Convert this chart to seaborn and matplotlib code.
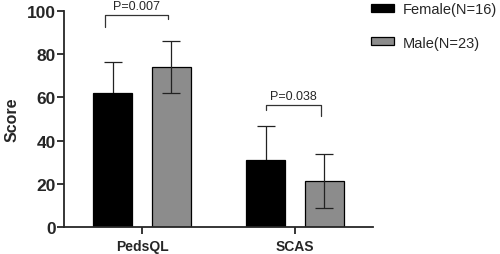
import pandas as pd
import matplotlib.pyplot as plt
import seaborn as sns
from matplotlib.patches import Patch

# -----------------------------------
# Data
# -----------------------------------
measures = ["PedsQL", "SCAS"]
groups = ["Female(N=16)", "Male(N=23)"]
female_mean = [62, 31.2]
female_sd = [14.5, 15.6]
male_mean = [74, 21.4]
male_sd = [12, 12.4]
p_labels = ["P=0.007", "P=0.038"]
bracket_y = [98, 56.5]
bracket_left = [92.5, 54]
bracket_right = [96.5, 51.5]

colors = {"Female(N=16)": "black", "Male(N=23)": "#8c8c8c"}

df = pd.DataFrame({
    "Measure": measures * 2,
    "Group": [groups[0]] * 2 + [groups[1]] * 2,
    "Score": female_mean + male_mean,
    "SD": female_sd + male_sd,
})

sns.set_style("ticks")
plt.rcParams["font.family"] = ["Liberation Sans", "DejaVu Sans"]

fig = plt.figure(figsize=(5, 2.55), dpi=100)
ax = fig.add_axes([0.128, 0.106, 0.618, 0.847])

sns.barplot(
    data=df, x="Measure", y="Score", hue="Group",
    order=measures, hue_order=groups, palette=colors,
    width=0.76, gap=0.33, errorbar=None,
    edgecolor="black", linewidth=0.9, legend=False, ax=ax,
)
for p in ax.patches:
    p.set_zorder(2)

# error bars: female behind (black bar hides the lower half), male on top
for patch_group, g, z in zip([ax.patches[:2], ax.patches[2:4]], groups, [1, 3]):
    sub = df[df["Group"] == g]
    xs = [p.get_x() + p.get_width() / 2 for p in patch_group]
    ax.errorbar(xs, sub["Score"], yerr=sub["SD"], fmt="none",
                ecolor="#222222", elinewidth=0.9, capsize=6.5, capthick=0.9, zorder=z)

# significance brackets
for i in range(2):
    f = ax.patches[i]
    m = ax.patches[2 + i]
    x1 = f.get_x() + f.get_width() / 2 - 0.05 if i == 0 else f.get_x() + f.get_width() / 2
    x2 = m.get_x() + m.get_width() / 2 - 0.02
    ax.plot([x1, x1, x2, x2],
            [bracket_left[i], bracket_y[i], bracket_y[i], bracket_right[i]],
            color="#333333", lw=0.9, clip_on=False)
    ax.text((x1 + x2) / 2, bracket_y[i] + 1.5, p_labels[i],
            ha="center", va="bottom", fontsize=9)

ax.set_ylim(0, 100)
ax.set_xlim(-0.51, 1.51)
ax.set_yticks([0, 20, 40, 60, 80, 100])
ax.set_xlabel("")
ax.set_ylabel("Score", fontsize=11.5, fontweight="bold", labelpad=5)
for lbl in ax.get_yticklabels() + ax.get_xticklabels():
    lbl.set_fontweight("bold")
ax.tick_params(axis="y", labelsize=12.5, width=1.3, length=5, pad=1)
ax.tick_params(axis="x", labelsize=10, width=1.3, length=5)
sns.despine(ax=ax)
for s in ["left", "bottom"]:
    ax.spines[s].set_linewidth(1.3)

handles = [Patch(facecolor=colors[g], edgecolor="black", linewidth=0.9) for g in groups]
fig.legend(handles, groups, loc="upper left", bbox_to_anchor=(0.716, 1.04),
           frameon=False, fontsize=10.5, handlelength=1.55, handleheight=0.45,
           labelspacing=1.35, handletextpad=0.6)

fig.savefig("out.png", dpi=100)
